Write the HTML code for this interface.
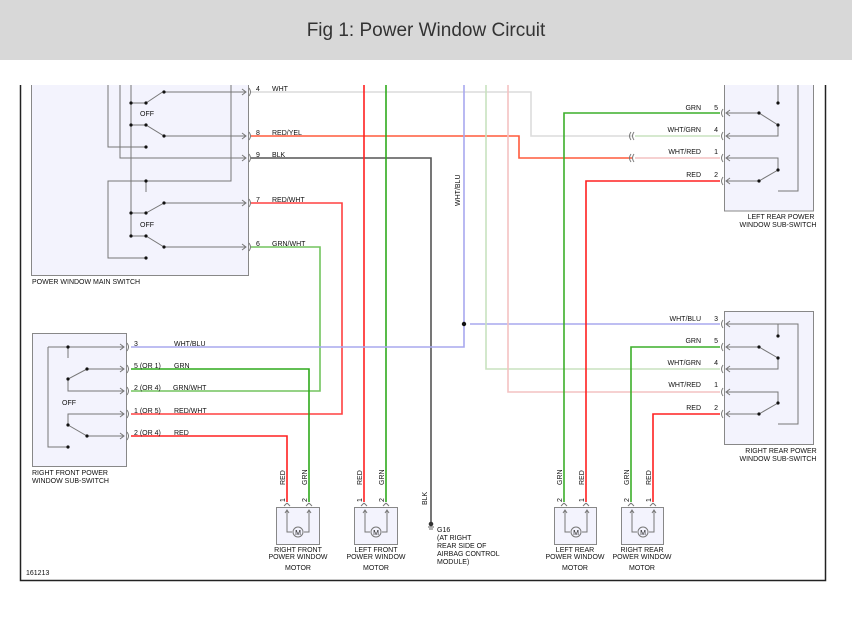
<!DOCTYPE html>
<html><head><style>
body{margin:0;width:852px;height:617px;background:#fff;overflow:hidden;font-family:"Liberation Sans",sans-serif}
.hdr{position:absolute;left:0;top:0;width:852px;height:60px;background:#d8d8d8;text-align:center;line-height:62px;font-size:19px;color:#333}
svg{position:absolute;left:0;top:0}
text{font-family:"Liberation Sans",sans-serif;font-size:7px;fill:#111}
</style></head><body>
<svg width="852" height="617" viewBox="0 0 852 617">
<!-- frame -->
<path d="M20.5 60V580.5H825.5V60" fill="none" stroke="#222" stroke-width="1.5"/>
<!-- boxes -->
<g fill="#f3f3fd" stroke="#888" stroke-width="1">
<rect x="31.5" y="55" width="217" height="220.5"/>
<rect x="32.5" y="333.5" width="94" height="133"/>
<rect x="724.5" y="55" width="89" height="156"/>
<rect x="724.5" y="311.5" width="89" height="133"/>
<rect x="276.5" y="507.5" width="43" height="37"/>
<rect x="354.5" y="507.5" width="43" height="37"/>
<rect x="554.5" y="507.5" width="42" height="37"/>
<rect x="621.5" y="507.5" width="42" height="37"/>
</g>
<!-- wires -->
<g fill="none" stroke-width="1.6">
<path d="M251 92H531V136H632" stroke="#dcdcdc"/>
<path d="M635 136H720" stroke="#c8e2bf"/>
<path d="M251 136H519V158H632" stroke="#ff5a3c"/>
<path d="M635 158H720" stroke="#f4c2c2"/>
<path d="M251 158H431V522" stroke="#555"/>
<path d="M251 203H342V414H131" stroke="#ff4040"/>
<path d="M251 247H320V391H131" stroke="#72c45e"/>
<path d="M364 60V502" stroke="#ff2020"/>
<path d="M386 60V502" stroke="#2eaa1c"/>
<path d="M464 60V347H131" stroke="#a8a8ee"/>
<path d="M470 324H720" stroke="#a8a8ee"/>
<path d="M486 60V369H720" stroke="#c8e2bf"/>
<path d="M508 60V392H720" stroke="#f4c2c2"/>
<path d="M720 113H564V502" stroke="#3caf2a"/>
<path d="M720 181H586V502" stroke="#ff2020"/>
<path d="M720 347H631V502" stroke="#3caf2a"/>
<path d="M720 414H653V502" stroke="#ff2020"/>
<path d="M131 369H309V502" stroke="#2eaa1c"/>
<path d="M131 436H287V502" stroke="#ff2020"/>
</g>
<circle cx="464" cy="324" r="2.2" fill="#111"/>
<!-- ground -->
<g stroke="#333" fill="#333"><circle cx="431" cy="524" r="1.8"/><path d="M428 527h6M429 529h4" stroke-width="0.8"/></g>
<g fill="none" stroke="#777" stroke-width="1">
<path d="M108 60V147H146M120 60V158H246M131 60V236H146M231 60V181H108V258H146M146 181V192"/>
<path d="M131 103H146L164 91M164 92H246M131 125H146L164 136H246M131 213H146L164 203H246M131 236H146L164 247H246"/>
<path d="M242 89l4 3-4 3M242 133l4 3-4 3M242 155l4 3-4 3M242 200l4 3-4 3M242 244l4 3-4 3"/>
<path d="M249 88q3 4 0 8M249 132q3 4 0 8M249 154q3 4 0 8M249 199q3 4 0 8M249 243q3 4 0 8"/>
<path d="M48 347V447H68M48 347H124M68 347V358M87 369H124M87 369L68 379V391H124M124 414H68V425L87 436H124"/>
<path d="M120 344l4 3-4 3M120 366l4 3-4 3M120 388l4 3-4 3M120 411l4 3-4 3M120 433l4 3-4 3"/>
<path d="M127 343q3 4 0 8M127 365q3 4 0 8M127 387q3 4 0 8M127 410q3 4 0 8M127 432q3 4 0 8"/>
<path d="M778 60V103M798 60V191H778M726 113H759L778 125V136H726M726 158H778V170L759 181H726"/>
<path d="M730 110l-4 3 4 3M730 133l-4 3 4 3M730 155l-4 3 4 3M730 178l-4 3 4 3"/>
<path d="M723 109q-3 4 0 8M723 132q-3 4 0 8M723 154q-3 4 0 8M723 177q-3 4 0 8M634 132q-3 4 0 8M634 154q-3 4 0 8M631 132q-3 4 0 8M631 154q-3 4 0 8"/>
<path d="M726 324H798V424H778M778 324V336M726 347H759L778 358V369H726M726 392H778V403L759 414H726"/>
<path d="M730 321l-4 3 4 3M730 344l-4 3 4 3M730 366l-4 3 4 3M730 389l-4 3 4 3M730 411l-4 3 4 3"/>
<path d="M723 320q-3 4 0 8M723 343q-3 4 0 8M723 365q-3 4 0 8M723 388q-3 4 0 8M723 410q-3 4 0 8"/>
<path d="M287 503l-3 3M287 503l3 3M309 503l-3 3M309 503l3 3M364 503l-3 3M364 503l3 3M386 503l-3 3M386 503l3 3M564 503l-3 3M564 503l3 3M586 503l-3 3M586 503l3 3M631 503l-3 3M631 503l3 3M653 503l-3 3M653 503l3 3"/>
<path d="M287 510V532H292M309 510V532H304M365 510V532H370M387 510V532H382M565 510V532H570M587 510V532H582M632 510V532H637M654 510V532H649"/>
<path d="M285 513l2-3 2 3M307 513l2-3 2 3M363 513l2-3 2 3M385 513l2-3 2 3M563 513l2-3 2 3M585 513l2-3 2 3M630 513l2-3 2 3M652 513l2-3 2 3"/>
<circle cx="298" cy="532" r="5"/><circle cx="376" cy="532" r="5"/><circle cx="576" cy="532" r="5"/><circle cx="643" cy="532" r="5"/>
</g>
<g fill="#111">
<circle cx="146" cy="103" r="1.6"/><circle cx="131" cy="103" r="1.6"/><circle cx="164" cy="92" r="1.6"/>
<circle cx="131" cy="125" r="1.6"/><circle cx="146" cy="125" r="1.6"/><circle cx="164" cy="136" r="1.6"/>
<circle cx="146" cy="147" r="1.6"/><circle cx="146" cy="181" r="1.6"/>
<circle cx="131" cy="213" r="1.6"/><circle cx="146" cy="213" r="1.6"/><circle cx="164" cy="203" r="1.6"/>
<circle cx="131" cy="236" r="1.6"/><circle cx="146" cy="236" r="1.6"/><circle cx="164" cy="247" r="1.6"/><circle cx="146" cy="258" r="1.6"/>
<circle cx="68" cy="347" r="1.6"/><circle cx="87" cy="369" r="1.6"/><circle cx="68" cy="379" r="1.6"/><circle cx="68" cy="425" r="1.6"/><circle cx="87" cy="436" r="1.6"/><circle cx="68" cy="447" r="1.6"/>
<circle cx="778" cy="103" r="1.6"/><circle cx="759" cy="113" r="1.6"/><circle cx="778" cy="125" r="1.6"/><circle cx="778" cy="170" r="1.6"/><circle cx="759" cy="181" r="1.6"/>
<circle cx="778" cy="336" r="1.6"/><circle cx="759" cy="347" r="1.6"/><circle cx="778" cy="358" r="1.6"/><circle cx="778" cy="403" r="1.6"/><circle cx="759" cy="414" r="1.6"/>
</g>
<g>
<text x="256" y="91">4</text><text x="272" y="91">WHT</text>
<text x="256" y="135">8</text><text x="272" y="135">RED/YEL</text>
<text x="256" y="157">9</text><text x="272" y="157">BLK</text>
<text x="256" y="202">7</text><text x="272" y="202">RED/WHT</text>
<text x="256" y="246">6</text><text x="272" y="246">GRN/WHT</text>
<text x="140" y="116">OFF</text><text x="140" y="227">OFF</text>
<text x="32" y="284">POWER WINDOW MAIN SWITCH</text>
<text x="134" y="346">3</text><text x="174" y="346">WHT/BLU</text>
<text x="134" y="368">5 (OR 1)</text><text x="174" y="368">GRN</text>
<text x="134" y="390">2 (OR 4)</text><text x="173" y="390">GRN/WHT</text>
<text x="134" y="413">1 (OR 5)</text><text x="174" y="413">RED/WHT</text>
<text x="134" y="435">2 (OR 4)</text><text x="174" y="435">RED</text>
<text x="62" y="405">OFF</text>
<text x="32" y="475">RIGHT FRONT POWER</text><text x="32" y="483">WINDOW SUB-SWITCH</text>
<g text-anchor="end">
<text x="701" y="110">GRN</text><text x="718" y="110">5</text>
<text x="701" y="132">WHT/GRN</text><text x="718" y="132">4</text>
<text x="701" y="154">WHT/RED</text><text x="718" y="154">1</text>
<text x="701" y="177">RED</text><text x="718" y="177">2</text>
<text x="701" y="321">WHT/BLU</text><text x="718" y="321">3</text>
<text x="701" y="343">GRN</text><text x="718" y="343">5</text>
<text x="701" y="365">WHT/GRN</text><text x="718" y="365">4</text>
<text x="701" y="387">WHT/RED</text><text x="718" y="387">1</text>
<text x="701" y="410">RED</text><text x="718" y="410">2</text>
</g>
<g text-anchor="middle">
<text x="781" y="219">LEFT REAR POWER</text><text x="778" y="227">WINDOW SUB-SWITCH</text>
<text x="781" y="453">RIGHT REAR POWER</text><text x="778" y="461">WINDOW SUB-SWITCH</text>
<text x="298" y="552">RIGHT FRONT</text><text x="298" y="559">POWER WINDOW</text><text x="298" y="570">MOTOR</text>
<text x="376" y="552">LEFT FRONT</text><text x="376" y="559">POWER WINDOW</text><text x="376" y="570">MOTOR</text>
<text x="575" y="552">LEFT REAR</text><text x="575" y="559">POWER WINDOW</text><text x="575" y="570">MOTOR</text>
<text x="642" y="552">RIGHT REAR</text><text x="642" y="559">POWER WINDOW</text><text x="642" y="570">MOTOR</text>
<text x="298" y="535" font-size="8">M</text><text x="376" y="535" font-size="8">M</text><text x="576" y="535" font-size="8">M</text><text x="643" y="535" font-size="8">M</text>
</g>
<text x="437" y="532">G16</text><text x="437" y="540">(AT RIGHT</text><text x="437" y="548">REAR SIDE OF</text><text x="437" y="556">AIRBAG CONTROL</text><text x="437" y="564">MODULE)</text>
<text x="26" y="575">161213</text>
<text transform="translate(460,206) rotate(-90)">WHT/BLU</text>
<text transform="translate(427,505) rotate(-90)">BLK</text>
<g>
<text transform="translate(285,485) rotate(-90)">RED</text><text transform="translate(285,502) rotate(-90)">1</text>
<text transform="translate(307,485) rotate(-90)">GRN</text><text transform="translate(307,502) rotate(-90)">2</text>
<text transform="translate(362,485) rotate(-90)">RED</text><text transform="translate(362,502) rotate(-90)">1</text>
<text transform="translate(384,485) rotate(-90)">GRN</text><text transform="translate(384,502) rotate(-90)">2</text>
<text transform="translate(562,485) rotate(-90)">GRN</text><text transform="translate(562,502) rotate(-90)">2</text>
<text transform="translate(584,485) rotate(-90)">RED</text><text transform="translate(584,502) rotate(-90)">1</text>
<text transform="translate(629,485) rotate(-90)">GRN</text><text transform="translate(629,502) rotate(-90)">2</text>
<text transform="translate(651,485) rotate(-90)">RED</text><text transform="translate(651,502) rotate(-90)">1</text>
</g>
</g>
<rect x="0" y="60" width="852" height="25" fill="#fff"/>
</svg>
<div class="hdr">Fig 1: Power Window Circuit</div>
</body></html>
